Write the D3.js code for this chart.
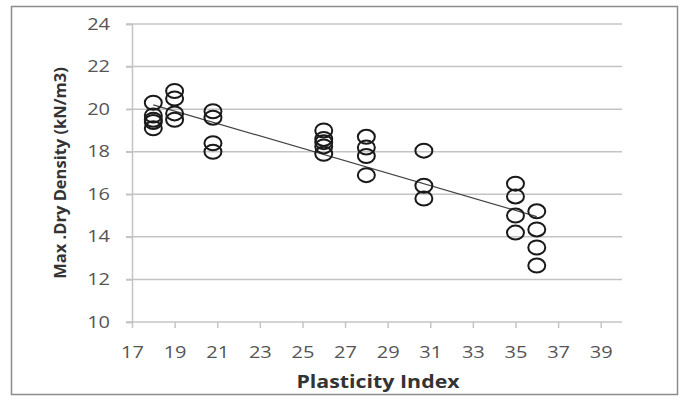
<!DOCTYPE html>
<html>
<head>
<meta charset="utf-8">
<script src="https://cdn.jsdelivr.net/npm/d3@7"></script>
<style>
  html, body { margin: 0; padding: 0; background: #fff; }
  svg { display: block; }
  text { font-family: "Open Sans", "Liberation Sans", sans-serif; }
</style>
</head>
<body>
<svg id="chart" width="686" height="399"></svg>
<script>
// Plasticity index vs. maximum dry density
const plasticityIndex = [
  18, 18, 18, 18, 18,
  19, 19, 19, 19,
  20.8, 20.8, 20.8, 20.8,
  26, 26, 26, 26, 26,
  28, 28, 28, 28,
  30.7, 30.7, 30.7,
  35, 35, 35, 35,
  36, 36, 36, 36
];
const maxDryDensity = [
  20.3, 19.7, 19.5, 19.4, 19.1,
  20.85, 20.5, 19.8, 19.5,
  19.9, 19.6, 18.4, 18.0,
  19.0, 18.6, 18.45, 18.25, 17.9,
  18.7, 18.2, 17.8, 16.9,
  18.05, 16.4, 15.8,
  16.5, 15.9, 15.0, 14.2,
  15.2, 14.35, 13.5, 12.65
];
// Linear trend line end points
const trendX = [18, 36];
const trendY = [20.2, 14.95];

const xTicks = [17, 19, 21, 23, 25, 27, 29, 31, 33, 35, 37, 39];
const yTicks = [10, 12, 14, 16, 18, 20, 22, 24];

const svg = d3.select("#chart");
const STRETCH = 1.25; // horizontal widening of the label glyphs

// outer frame
svg.append("rect")
  .attr("x", 11.5).attr("y", 6.5)
  .attr("width", 666).attr("height", 388)
  .attr("fill", "#fff")
  .attr("stroke", "#8c8c8c")
  .attr("stroke-width", 1.5);

const x = d3.scaleLinear().domain([17, 40]).range([132, 622]);
const y = d3.scaleLinear().domain([10, 24]).range([322, 24]);

// horizontal gridlines
svg.append("g")
  .selectAll("line")
  .data(yTicks)
  .join("line")
  .attr("x1", x(17) - 6).attr("x2", x(40))
  .attr("y1", d => y(d)).attr("y2", d => y(d))
  .attr("stroke", "#c4c4c4")
  .attr("stroke-width", 1.5);

// y axis
const yAxis = svg.append("g")
  .attr("transform", `translate(${x(17)},0)`)
  .call(d3.axisLeft(y).tickValues(yTicks).tickSize(6).tickPadding(22).tickFormat(d3.format("d")));
yAxis.select(".domain").attr("stroke", "#c4c4c4").attr("stroke-width", 1.5);
yAxis.selectAll(".tick line").attr("stroke", "#c4c4c4").attr("stroke-width", 1.5);
yAxis.selectAll(".tick text")
  .attr("x", -22 / STRETCH)
  .attr("transform", `scale(${STRETCH},1)`)
  .attr("fill", "#555")
  .style("font-size", "16px")
  .style("font-family", "\"Open Sans\", sans-serif");

// x axis
const xAxis = svg.append("g")
  .attr("transform", `translate(0,${y(10)})`)
  .call(d3.axisBottom(x).tickValues(xTicks).tickSize(6).tickPadding(19).tickFormat(d3.format("d")));
xAxis.select(".domain").remove();
xAxis.selectAll(".tick line").attr("stroke", "#c4c4c4").attr("stroke-width", 1.5);
xAxis.selectAll(".tick text")
  .attr("transform", `scale(${STRETCH},1)`)
  .attr("fill", "#555")
  .style("font-size", "16px")
  .style("font-family", "\"Open Sans\", sans-serif");

// trend line
svg.append("line")
  .attr("x1", x(trendX[0])).attr("y1", y(trendY[0]))
  .attr("x2", x(trendX[1])).attr("y2", y(trendY[1]))
  .attr("stroke", "#444")
  .attr("stroke-width", 1.2);

// data markers (open circles)
svg.append("g")
  .selectAll("ellipse")
  .data(plasticityIndex.map((p, i) => [p, maxDryDensity[i]]))
  .join("ellipse")
  .attr("cx", d => x(d[0]))
  .attr("cy", d => y(d[1]))
  .attr("rx", 8.5)
  .attr("ry", 7)
  .attr("fill", "none")
  .attr("stroke", "#1a1a1a")
  .attr("stroke-width", 2);

// axis titles
svg.append("text")
  .attr("transform", `translate(378,388) scale(1.22,1)`)
  .attr("text-anchor", "middle")
  .attr("fill", "#333")
  .style("font-size", "17.5px")
  .style("font-weight", "bold")
  .text("Plasticity Index");

svg.append("text")
  .attr("transform", `translate(66,173) rotate(-90)`)
  .attr("text-anchor", "middle")
  .attr("fill", "#333")
  .style("font-size", "16.5px")
  .style("font-weight", "bold")
  .text("Max .Dry Density (kN/m3)");
</script>
</body>
</html>
